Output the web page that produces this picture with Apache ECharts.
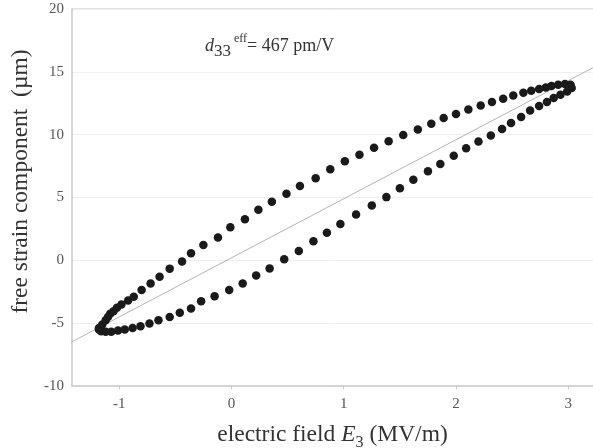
<!DOCTYPE html>
<html>
<head>
<meta charset="utf-8">
<script src="https://cdn.jsdelivr.net/npm/echarts@6/dist/echarts.min.js"></script>
<style>
  html, body { margin: 0; padding: 0; background: #fff; }
</style>
</head>
<body>
<div id="main" style="width: 593px;height:448px;"></div>
<script type="text/javascript">
  // rising branch of the loop (E3 in MV/m, strain in um)
  var upX = [-1.18, -1.15, -1.12, -1.10, -1.08, -1.05, -1.02, -0.98, -0.92, -0.87, -0.80, -0.72,
    -0.64, -0.55, -0.44, -0.36, -0.25, -0.12, -0.01, 0.12, 0.24, 0.36, 0.49, 0.61, 0.75, 0.88,
    1.01, 1.14, 1.27, 1.40, 1.53, 1.66, 1.78, 1.89, 2.00, 2.11, 2.22, 2.32, 2.42, 2.51, 2.60,
    2.67, 2.74, 2.80, 2.85, 2.91, 2.97, 3.02];
  var upY = [-5.38, -5.11, -4.77, -4.50, -4.26, -4.05, -3.78, -3.51, -3.19, -2.90, -2.37, -1.84,
    -1.30, -0.66, -0.10, 0.56, 1.22, 1.81, 2.64, 3.27, 4.02, 4.66, 5.30, 5.91, 6.53, 7.24,
    7.88, 8.41, 8.95, 9.48, 9.98, 10.41, 10.86, 11.32, 11.64, 12.00, 12.32, 12.60, 12.86, 13.12, 13.34,
    13.50, 13.63, 13.76, 13.87, 13.98, 14.03, 13.98];
  // falling branch
  var downX = [3.03, 2.99, 2.93, 2.87, 2.81, 2.74, 2.66, 2.58, 2.49, 2.41, 2.31, 2.20, 2.09, 1.98,
    1.86, 1.75, 1.62, 1.50, 1.38, 1.25, 1.11, 0.97, 0.85, 0.73, 0.60, 0.47, 0.34, 0.22, 0.10,
    -0.02, -0.15, -0.27, -0.36, -0.46, -0.55, -0.65, -0.73, -0.81, -0.88, -0.95, -1.01, -1.07,
    -1.12, -1.16, -1.18];
  var downY = [13.71, 13.44, 13.18, 12.92, 12.60, 12.28, 11.93, 11.40, 10.92, 10.46, 9.93, 9.45, 8.92, 8.33,
    7.67, 7.08, 6.41, 5.73, 5.03, 4.37, 3.65, 2.90, 2.20, 1.52, 0.74, 0.08, -0.64, -1.20, -1.84,
    -2.37, -2.85, -3.25, -3.83, -4.18, -4.50, -4.77, -5.03, -5.25, -5.38, -5.51, -5.59, -5.69,
    -5.69, -5.65, -5.51];
  // linear fit through the loop
  var fitX = [-1.45, 3.3];
  var fitY = [-6.62, 15.71];
  var xTicks = [-1, 0, 1, 2, 3];

  function pairs(xs, ys) {
    var out = [];
    for (var i = 0; i < xs.length; i++) out.push([xs[i], ys[i]]);
    return out;
  }

  var serif = 'Liberation Serif';
  var myChart = echarts.init(document.getElementById('main'));
  var option = {
    animation: false,
    grid: { left: 72, right: 0, top: 9, bottom: 62, outerBoundsMode: 'none', containLabel: false },
    xAxis: {
      type: 'value',
      min: -1.42,
      max: 3.22,
      axisLine: { show: true, onZero: false, lineStyle: { color: '#c8c8c8', width: 1.5 } },
      axisTick: { show: true, length: 3, lineStyle: { color: '#c8c8c8' },
        customValues: xTicks },
      axisLabel: { color: '#555', fontFamily: serif, fontSize: 15, margin: 11,
        customValues: xTicks },
      splitLine: { show: false },
      name: '{n|electric field }{i|E}{s|3}{n| (MV/m)}',
      nameLocation: 'middle',
      nameGap: 32,
      nameTextStyle: {
        rich: {
          n: { fontFamily: serif, fontSize: 23.5, color: '#333', lineHeight: 26 },
          i: { fontFamily: serif, fontSize: 23.5, fontStyle: 'italic', color: '#333', lineHeight: 26 },
          s: { fontFamily: serif, fontSize: 16, color: '#333', verticalAlign: 'bottom', lineHeight: 33 }
        }
      }
    },
    yAxis: {
      type: 'value',
      min: -10,
      max: 20,
      interval: 5,
      axisLine: { show: true, onZero: false, lineStyle: { color: '#c8c8c8', width: 1.5 } },
      axisTick: { show: false },
      axisLabel: { color: '#555', fontFamily: serif, fontSize: 15, margin: 8 },
      splitLine: { show: true, lineStyle: { color: '#f0f0f0' } },
      name: 'free strain component  (\u00b5m)',
      nameLocation: 'middle',
      nameGap: 36,
      nameTextStyle: { fontFamily: serif, fontSize: 23.5, color: '#333', padding: [0, 0, 0, 32] }
    },
    graphic: [
      {
        type: 'line',
        shape: { x1: 72, y1: 9, x2: 593, y2: 9 },
        style: { stroke: '#d8d8d8', lineWidth: 1.5 }
      },
      {
        type: 'text',
        left: 205,
        top: 33,
        style: {
          text: '{i|d}{s|33}{p| eff}{n|= 467 pm/V}',
          rich: {
            i: { fontFamily: serif, fontSize: 18, fontStyle: 'italic', fill: '#333', lineHeight: 20 },
            s: { fontFamily: serif, fontSize: 17, fill: '#333', verticalAlign: 'bottom', lineHeight: 27 },
            p: { fontFamily: serif, fontSize: 12, fill: '#333', verticalAlign: 'top', lineHeight: 27 },
            n: { fontFamily: serif, fontSize: 18, fill: '#333', lineHeight: 20 }
          }
        }
      }
    ],
    series: [
      {
        name: 'fit',
        type: 'line',
        data: pairs(fitX, fitY),
        showSymbol: false,
        symbol: 'none',
        lineStyle: { color: '#b4b4b4', width: 1 },
        z: 1
      },
      {
        name: 'up',
        type: 'scatter',
        data: pairs(upX, upY),
        symbolSize: 8.5,
        itemStyle: { color: '#1a1a1a', opacity: 1 },
        z: 3
      },
      {
        name: 'down',
        type: 'scatter',
        data: pairs(downX, downY),
        symbolSize: 8.5,
        itemStyle: { color: '#1a1a1a', opacity: 1 },
        z: 3
      }
    ]
  };
  myChart.setOption(option);
</script>
</body>
</html>
